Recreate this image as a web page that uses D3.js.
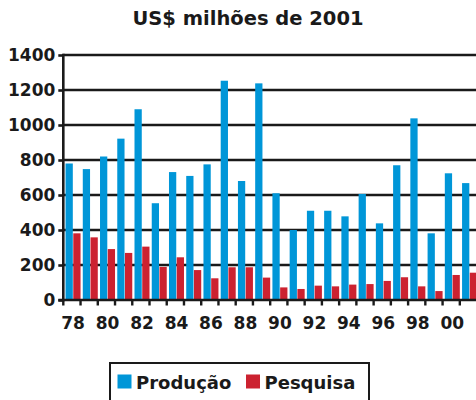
<!DOCTYPE html>
<html>
<head>
<meta charset="utf-8">
<script src="https://cdn.jsdelivr.net/npm/d3@7"></script>
<style>
  body { margin: 0; background: #fff; }
  text { font-family: "DejaVu Sans", sans-serif; font-weight: bold; fill: #1a1a1a; }
</style>
</head>
<body>
<div id="main"></div>
<script>
var years = ["78","79","80","81","82","83","84","85","86","87","88","89",
             "90","91","92","93","94","95","96","97","98","99","00","01"];
var producao = [780, 748, 820, 922, 1090, 553, 731, 709, 775, 1253, 680, 1238,
                610, 400, 510, 510, 478, 606, 438, 770, 1038, 381, 724, 668];
var pesquisa = [381, 358, 291, 269, 305, 189, 244, 171, 124, 187, 187, 128,
                72, 63, 82, 78, 88, 91, 109, 130, 78, 51, 143, 156];
var series = ["Produção", "Pesquisa"];
var colors = ["#0096d8", "#cc2230"];
var yTicks = [0, 200, 400, 600, 800, 1000, 1200, 1400];
var xLabels = ["78","80","82","84","86","88","90","92","94","96","98","00"];

var W = 476, H = 400;
// note: "top" is taken by window.top, so plot edges get their own names
var plotLeft = 63.3, plotBottom = 300, plotTop = 55;

var svg = d3.select("#main").append("svg")
	.attr("width", W)
	.attr("height", H);

// title
svg.append("text")
	.attr("x", 248)
	.attr("y", 25)
	.attr("text-anchor", "middle")
	.style("font-size", "19.5px")
	.text("US$ milhões de 2001");

var y = d3.scaleLinear().domain([0, 1400]).range([plotBottom, plotTop]);

var x = d3.scaleBand()
	.domain(years)
	.range([plotLeft, plotLeft + years.length * 17.24])
	.paddingInner(0.13)
	.paddingOuter(0.065)
	.align(1);

var inner = d3.scaleBand()
	.domain(series)
	.range([0, x.bandwidth()])
	.paddingInner(0.06);

// gridlines behind the bars
svg.append("g")
	.selectAll("line")
	.data(yTicks.filter(function(d) { return d > 0; }))
	.join("line")
	.attr("x1", plotLeft)
	.attr("x2", W)
	.attr("y1", function(d) { return y(d); })
	.attr("y2", function(d) { return y(d); })
	.style("stroke", "#1a1a1a")
	.style("stroke-width", 2.6);

// bars
var rows = years.map(function(yr, i) {
	return { year: yr, values: [producao[i], pesquisa[i]] };
});

var groups = svg.append("g")
	.selectAll("g")
	.data(rows)
	.join("g")
	.attr("transform", function(d) { return "translate(" + x(d.year) + ",0)"; });

groups.selectAll("rect")
	.data(function(d) {
		return d.values.map(function(v, j) { return { key: series[j], value: v, c: colors[j] }; });
	})
	.join("rect")
	.attr("x", function(d) { return inner(d.key); })
	.attr("width", inner.bandwidth())
	.attr("y", function(d) { return y(d.value); })
	.attr("height", function(d) { return plotBottom - y(d.value); })
	.attr("fill", function(d) { return d.c; });

// y axis
var yAxis = svg.append("g")
	.attr("transform", "translate(" + plotLeft + ",0)")
	.call(d3.axisLeft(y).tickValues(yTicks).tickFormat(d3.format("d")).tickSize(5).tickPadding(3));
yAxis.select(".domain").remove();
yAxis.selectAll(".tick line").style("stroke", "#1a1a1a").style("stroke-width", 2.6);
yAxis.selectAll("text")
	.style("font-size", "17px")
	.style("font-family", "'DejaVu Sans', sans-serif")
	.style("font-weight", "bold")
	.style("fill", "#1a1a1a");

svg.append("line")
	.attr("x1", plotLeft).attr("x2", plotLeft)
	.attr("y1", plotTop - 1.3).attr("y2", plotBottom + 1.3)
	.style("stroke", "#1a1a1a")
	.style("stroke-width", 2.6);

// x axis line and ticks at group boundaries
svg.append("line")
	.attr("x1", plotLeft - 5).attr("x2", W)
	.attr("y1", plotBottom).attr("y2", plotBottom)
	.style("stroke", "#1a1a1a")
	.style("stroke-width", 2.6);

svg.append("g")
	.selectAll("line")
	.data(years)
	.join("line")
	.attr("x1", function(d) { return x(d) - x.step() * x.paddingInner(); })
	.attr("x2", function(d) { return x(d) - x.step() * x.paddingInner(); })
	.attr("y1", plotBottom)
	.attr("y2", plotBottom + 5.5)
	.style("stroke", "#1a1a1a")
	.style("stroke-width", 2.4);

svg.append("g")
	.selectAll("text")
	.data(xLabels)
	.join("text")
	.attr("x", function(d) { return x(d) + x.bandwidth() / 2; })
	.attr("y", 328.5)
	.attr("text-anchor", "middle")
	.style("font-size", "17px")
	.text(function(d) { return d; });

// legend
var legend = svg.append("g");
legend.append("rect")
	.attr("x", 110)
	.attr("y", 363)
	.attr("width", 259)
	.attr("height", 60)
	.attr("fill", "#fff")
	.style("stroke", "#1a1a1a")
	.style("stroke-width", 2);

var legendX = [117.5, 246];
var items = legend.selectAll("g.item")
	.data(series)
	.join("g")
	.attr("class", "item")
	.attr("transform", function(d, i) { return "translate(" + legendX[i] + ",0)"; });

items.append("rect")
	.attr("x", 0)
	.attr("y", 374.5)
	.attr("width", 14)
	.attr("height", 14)
	.attr("fill", function(d, i) { return colors[i]; });

items.append("text")
	.attr("x", 18.5)
	.attr("y", 388.5)
	.style("font-size", "18px")
	.text(function(d) { return d; });
</script>
</body>
</html>
